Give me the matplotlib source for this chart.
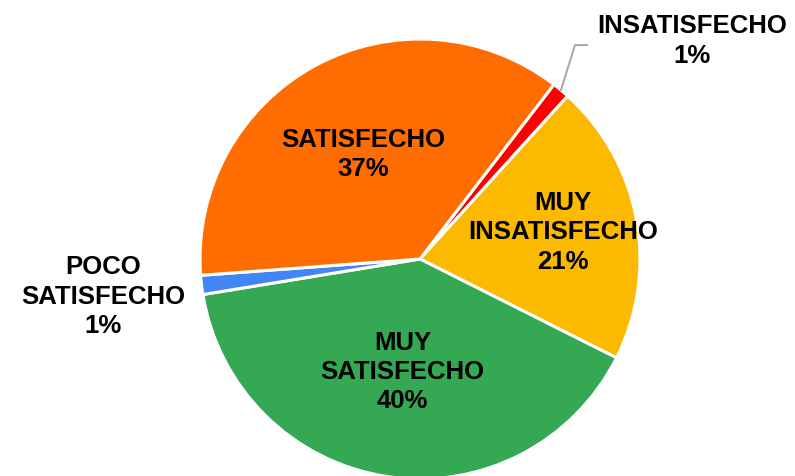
import numpy as np
import matplotlib.pyplot as plt

plt.rcParams['font.family'] = ['Liberation Sans', 'DejaVu Sans']

# datos (en sentido horario desde arriba a la derecha)
categorias = ["INSATISFECHO", "MUY\nINSATISFECHO", "MUY\nSATISFECHO", "POCO\nSATISFECHO", "SATISFECHO"]
valores = [1.3, 20.7, 40.0, 1.4, 36.6]
colores = ["#FF0000", "#FBBA00", "#34A853", "#4285F4", "#FF6D00"]

W, H = 795, 476
fig = plt.figure(figsize=(W / 100, H / 100), dpi=100)
ax = fig.add_axes([0, 0, 1, 1])

cx, cy, R = 420, H - 259, 220
wedges, _ = ax.pie(valores, colors=colores, startangle=52.5, counterclock=False,
                   center=(cx, cy), radius=R, frame=True,
                   wedgeprops=dict(edgecolor='white', linewidth=2.2))
ax.set_xlim(0, W)
ax.set_ylim(0, H)
ax.set_aspect('equal')
ax.axis('off')

estilo = dict(ha='center', va='center', fontsize=18.5, fontweight='bold', linespacing=1.28)

# distancia relativa de cada etiqueta
dist = [None, 0.66, 0.52, 1.45, 0.54]
for w, cat, v, d in zip(wedges, categorias, valores, dist):
    if d is None:
        continue
    ang = np.deg2rad((w.theta1 + w.theta2) / 2)
    ax.text(cx + d * R * np.cos(ang), cy + d * R * np.sin(ang),
            f"{cat}\n{int(round(v))}%", **estilo)

# etiqueta con línea guía para la porción pequeña
w0 = wedges[0]
a0 = np.deg2rad((w0.theta1 + w0.theta2) / 2)
x0, y0 = cx + R * np.cos(a0), cy + R * np.sin(a0)
ax.plot([x0, x0 + 14, x0 + 26], [y0, y0 + 45, y0 + 45], color='#A6A6A6', lw=1.4)
ax.text(692, H - 41, f"{categorias[0]}\n{int(round(valores[0]))}%", **estilo)

fig.savefig("out.png", dpi=100)
